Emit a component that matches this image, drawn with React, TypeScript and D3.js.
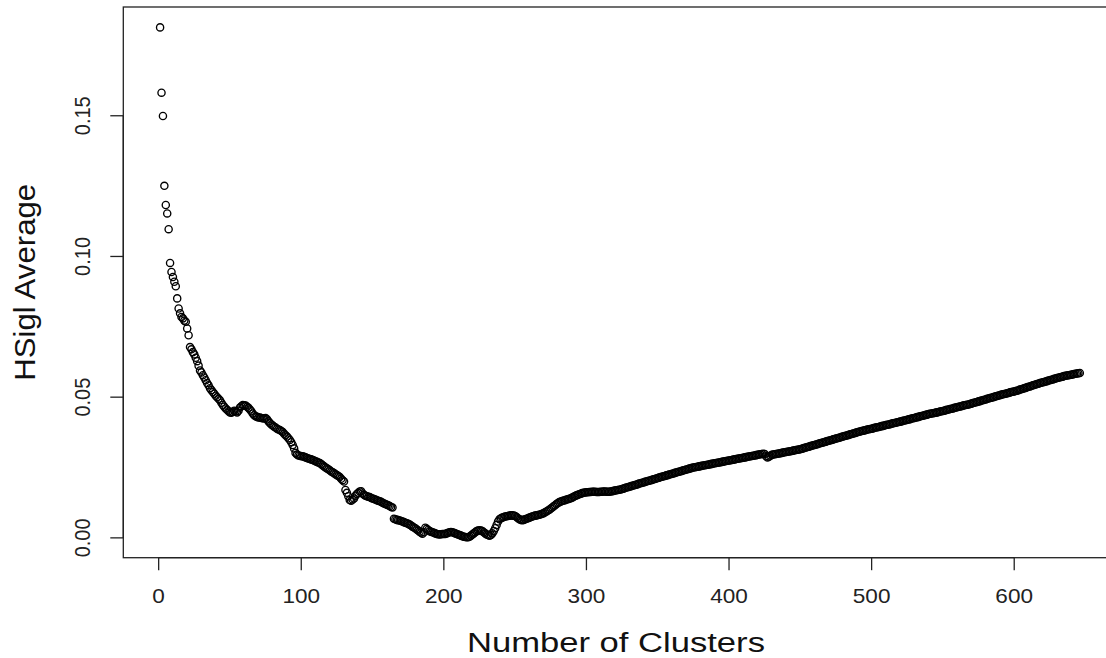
import React from 'react';
import * as d3 from 'd3';

// HSigl average per number of clusters (clusters 1..646)
const hsiglPart1 = [
  0.1814, 0.1582, 0.1499, 0.1251, 0.1183, 0.1153, 0.1097, 0.0977, 0.0945, 0.0927,
  0.0910, 0.0894, 0.0851, 0.0815, 0.0798, 0.0785, 0.0780, 0.0772, 0.0768, 0.0744,
  0.0720, 0.0678, 0.0670, 0.0660, 0.0652, 0.0640, 0.0628, 0.0612, 0.0595, 0.0588,
  0.0578, 0.0570, 0.0560, 0.0550, 0.0542, 0.0532, 0.0525, 0.0518, 0.0512, 0.0505,
  0.0500, 0.0494, 0.0489, 0.0480, 0.0472, 0.0466, 0.0460, 0.0455, 0.0450, 0.0446,
  0.0445, 0.0448, 0.0452, 0.0450, 0.0446, 0.0452, 0.0463, 0.0468, 0.0472, 0.0471,
  0.0470, 0.0466, 0.0462, 0.0456, 0.0450, 0.0442, 0.0436, 0.0432, 0.0430, 0.0428,
  0.0428, 0.0426, 0.0425, 0.0424, 0.0426, 0.0421, 0.0414, 0.0408, 0.0403, 0.0399,
  0.0395, 0.0392, 0.0388, 0.0385, 0.0383, 0.0380, 0.0376, 0.0370, 0.0365, 0.0360,
  0.0354, 0.0348, 0.0340, 0.0330, 0.0318, 0.0302, 0.0296, 0.0293, 0.0292, 0.0290,
];
const hsiglPart2 = [
  0.0290, 0.0288, 0.0286, 0.0284, 0.0282, 0.0280, 0.0279, 0.0277, 0.0275, 0.0272,
  0.0270, 0.0268, 0.0266, 0.0262, 0.0258, 0.0254, 0.0250, 0.0247, 0.0244, 0.0240,
  0.0236, 0.0233, 0.0230, 0.0226, 0.0223, 0.0220, 0.0216, 0.0210, 0.0205, 0.0200,
  0.0170, 0.0160, 0.0148, 0.0135, 0.0132, 0.0136, 0.0140, 0.0150, 0.0156, 0.0160,
  0.0165, 0.0166, 0.0158, 0.0153, 0.0150, 0.0148, 0.0146, 0.0145, 0.0142, 0.0140,
  0.0138, 0.0136, 0.0134, 0.0132, 0.0130, 0.0128, 0.0125, 0.0122, 0.0120, 0.0118,
  0.0116, 0.0113, 0.0110, 0.0108, 0.0068, 0.0066, 0.0064, 0.0063, 0.0062, 0.0060,
  0.0058, 0.0056, 0.0054, 0.0052, 0.0050, 0.0047, 0.0044, 0.0040, 0.0037, 0.0034,
  0.0030, 0.0026, 0.0022, 0.0018, 0.0015, 0.0020, 0.0036, 0.0032, 0.0028, 0.0024,
  0.0022, 0.0020, 0.0018, 0.0016, 0.0014, 0.0013, 0.0012, 0.0013, 0.0014, 0.0014,
];
const hsiglPart3 = [
  0.0014, 0.0016, 0.0018, 0.0020, 0.0021, 0.0020, 0.0018, 0.0016, 0.0014, 0.0012,
  0.0010, 0.0008, 0.0006, 0.0004, 0.0003, 0.0002, 0.0002, 0.0004, 0.0008, 0.0012,
  0.0016, 0.0020, 0.0024, 0.0026, 0.0027, 0.0026, 0.0024, 0.0020, 0.0016, 0.0012,
  0.0010, 0.0008, 0.0010, 0.0016, 0.0024, 0.0034, 0.0046, 0.0058, 0.0066, 0.0070,
  0.0072, 0.0074, 0.0076, 0.0077, 0.0078, 0.0079, 0.0080, 0.0080, 0.0079, 0.0078,
  0.0074, 0.0070, 0.0066, 0.0064, 0.0063, 0.0064, 0.0066, 0.0068, 0.0070, 0.0072,
  0.0074, 0.0076, 0.0078, 0.0079, 0.0080, 0.0081, 0.0082, 0.0084, 0.0086, 0.0088,
  0.0091, 0.0094, 0.0097, 0.0100, 0.0104, 0.0108, 0.0112, 0.0116, 0.0120, 0.0124,
  0.0127, 0.0129, 0.0131, 0.0133, 0.0134, 0.0136, 0.0137, 0.0139, 0.0141, 0.0143,
  0.0146, 0.0149, 0.0151, 0.0153, 0.0155, 0.0157, 0.0159, 0.0160, 0.0161, 0.0162,
];
const hsiglPart4 = [
  0.0162, 0.0163, 0.0163, 0.0164, 0.0164, 0.0164, 0.0163, 0.0163, 0.0163, 0.0164,
  0.0164, 0.0165, 0.0165, 0.0164, 0.0164, 0.0164, 0.0165, 0.0166, 0.0167, 0.0168,
  0.0169, 0.0170, 0.0171, 0.0172, 0.0174, 0.0175, 0.0177, 0.0179, 0.0180, 0.0182,
  0.0183, 0.0185, 0.0186, 0.0188, 0.0189, 0.0191, 0.0193, 0.0194, 0.0196, 0.0197,
  0.0199, 0.0200, 0.0202, 0.0203, 0.0205, 0.0206, 0.0208, 0.0209, 0.0211, 0.0213,
  0.0214, 0.0216, 0.0217, 0.0219, 0.0220, 0.0222, 0.0223, 0.0225, 0.0226, 0.0228,
  0.0229, 0.0231, 0.0232, 0.0234, 0.0235, 0.0237, 0.0238, 0.0240, 0.0241, 0.0243,
  0.0244, 0.0246, 0.0247, 0.0249, 0.0250, 0.0251, 0.0252, 0.0253, 0.0254, 0.0255,
  0.0256, 0.0257, 0.0258, 0.0259, 0.0260, 0.0261, 0.0262, 0.0263, 0.0264, 0.0265,
  0.0266, 0.0267, 0.0268, 0.0269, 0.0270, 0.0271, 0.0272, 0.0273, 0.0274, 0.0275,
];
const hsiglPart5 = [
  0.0276, 0.0277, 0.0278, 0.0279, 0.0280, 0.0281, 0.0282, 0.0283, 0.0284, 0.0285,
  0.0286, 0.0287, 0.0288, 0.0289, 0.0290, 0.0291, 0.0292, 0.0293, 0.0294, 0.0295,
  0.0296, 0.0297, 0.0298, 0.0299, 0.0298, 0.0290, 0.0286, 0.0288, 0.0292, 0.0295,
  0.0296, 0.0297, 0.0298, 0.0299, 0.0300, 0.0301, 0.0302, 0.0303, 0.0304, 0.0305,
  0.0306, 0.0307, 0.0308, 0.0309, 0.0310, 0.0311, 0.0312, 0.0313, 0.0314, 0.0315,
  0.0317, 0.0318, 0.0320, 0.0321, 0.0323, 0.0324, 0.0326, 0.0327, 0.0329, 0.0330,
  0.0332, 0.0333, 0.0335, 0.0336, 0.0338, 0.0339, 0.0341, 0.0342, 0.0344, 0.0345,
  0.0347, 0.0348, 0.0350, 0.0351, 0.0353, 0.0354, 0.0356, 0.0357, 0.0359, 0.0360,
  0.0362, 0.0363, 0.0365, 0.0366, 0.0368, 0.0369, 0.0371, 0.0372, 0.0374, 0.0375,
  0.0377, 0.0378, 0.0380, 0.0381, 0.0382, 0.0383, 0.0385, 0.0386, 0.0387, 0.0388,
];
const hsiglPart6 = [
  0.0389, 0.0391, 0.0392, 0.0393, 0.0394, 0.0396, 0.0397, 0.0398, 0.0399, 0.0401,
  0.0402, 0.0403, 0.0404, 0.0406, 0.0407, 0.0408, 0.0409, 0.0411, 0.0412, 0.0413,
  0.0414, 0.0416, 0.0417, 0.0418, 0.0420, 0.0421, 0.0422, 0.0424, 0.0425, 0.0426,
  0.0428, 0.0429, 0.0430, 0.0432, 0.0433, 0.0434, 0.0436, 0.0437, 0.0438, 0.0440,
  0.0441, 0.0442, 0.0443, 0.0444, 0.0445, 0.0446, 0.0447, 0.0449, 0.0450, 0.0451,
  0.0452, 0.0454, 0.0455, 0.0456, 0.0458, 0.0459, 0.0460, 0.0462, 0.0463, 0.0464,
  0.0466, 0.0467, 0.0468, 0.0470, 0.0471, 0.0472, 0.0473, 0.0474, 0.0476, 0.0477,
  0.0479, 0.0480, 0.0482, 0.0483, 0.0485, 0.0486, 0.0488, 0.0489, 0.0491, 0.0492,
  0.0494, 0.0495, 0.0497, 0.0498, 0.0500, 0.0501, 0.0503, 0.0504, 0.0506, 0.0507,
  0.0509, 0.0510, 0.0511, 0.0512, 0.0514, 0.0515, 0.0517, 0.0518, 0.0519, 0.0520,
];
const hsiglPart7 = [
  0.0522, 0.0523, 0.0525, 0.0527, 0.0528, 0.0530, 0.0532, 0.0533, 0.0535, 0.0537,
  0.0538, 0.0540, 0.0542, 0.0543, 0.0545, 0.0547, 0.0548, 0.0550, 0.0551, 0.0553,
  0.0554, 0.0556, 0.0557, 0.0559, 0.0560, 0.0562, 0.0563, 0.0565, 0.0566, 0.0568,
  0.0569, 0.0571, 0.0572, 0.0573, 0.0575, 0.0576, 0.0577, 0.0578, 0.0579, 0.0580,
  0.0581, 0.0582, 0.0583, 0.0584, 0.0585, 0.0586,
];

const xTicks = [0, 100, 200, 300, 400, 500, 600];
const yTicks = [0, 0.05, 0.1, 0.15];
const yTickLabels = ['0.00', '0.05', '0.10', '0.15'];

const WIDTH = 1106;
const HEIGHT = 658;
const FONT = '"Liberation Sans", Arial, sans-serif';
const STRETCH = 1.13; // the source picture is a bit wider than tall

const App: React.FC = () => {
  const values = [
    ...hsiglPart1, ...hsiglPart2, ...hsiglPart3, ...hsiglPart4,
    ...hsiglPart5, ...hsiglPart6, ...hsiglPart7,
  ];
  const points = values.map((v, i) => ({ k: i + 1, v }));

  // R style: 4% padding around the data range
  const xExt = d3.extent(points, d => d.k) as [number, number];
  const yExt = d3.extent(points, d => d.v) as [number, number];
  const xPad = (xExt[1] - xExt[0]) * 0.04;
  const yPad = (yExt[1] - yExt[0]) * 0.04;

  const left = 123.3, right = 1116.6, top = 7, bottom = 557.7;

  const x = d3.scaleLinear().domain([xExt[0] - xPad, xExt[1] + xPad]).range([left, right]);
  const y = d3.scaleLinear().domain([yExt[0] - yPad, yExt[1] + yPad]).range([bottom, top]);

  const stroke = '#222';

  return (
    <svg
      width={WIDTH}
      height={HEIGHT}
      style={{ position: 'absolute', left: 0, top: 0, display: 'block', background: '#fff', overflow: 'hidden' }}
      fontFamily={FONT}
    >
      <rect x={0} y={0} width={WIDTH} height={HEIGHT} fill="#fff" />

      {/* box */}
      <rect x={left} y={top} width={right - left} height={bottom - top} fill="none" stroke={stroke} strokeWidth={1.3} />

      {/* x axis */}
      <line x1={x(xTicks[0])} x2={x(xTicks[xTicks.length - 1])} y1={bottom} y2={bottom} stroke={stroke} strokeWidth={1.3} />
      {xTicks.map(t => (
        <g key={`xt${t}`}>
          <line x1={x(t)} x2={x(t)} y1={bottom} y2={bottom + 12.5} stroke={stroke} strokeWidth={1.3} />
          <text
            transform={`translate(${x(t)},603) scale(${STRETCH},1)`}
            textAnchor="middle"
            fontSize={20}
            fill="#222"
          >
            {t}
          </text>
        </g>
      ))}

      {/* y axis */}
      <line x1={left} x2={left} y1={y(yTicks[0])} y2={y(yTicks[yTicks.length - 1])} stroke={stroke} strokeWidth={1.3} />
      {yTicks.map((t, i) => (
        <g key={`yt${t}`}>
          <line x1={left} x2={left - 13} y1={y(t)} y2={y(t)} stroke={stroke} strokeWidth={1.3} />
          <text
            transform={`translate(90,${y(t)}) scale(${STRETCH},1) rotate(-90)`}
            textAnchor="middle"
            fontSize={20}
            fill="#222"
          >
            {yTickLabels[i]}
          </text>
        </g>
      ))}

      {/* titles */}
      <text
        x={(left + right) / 2 - 4}
        y={651.5}
        textAnchor="middle"
        fontSize={27}
        textLength={298}
        lengthAdjust="spacingAndGlyphs"
        fill="#111"
      >
        Number of Clusters
      </text>
      <text
        transform={`translate(35,${(top + bottom) / 2}) scale(1.07,1) rotate(-90)`}
        textAnchor="middle"
        fontSize={28}
        textLength={197}
        lengthAdjust="spacingAndGlyphs"
        fill="#111"
      >
        HSigl Average
      </text>

      {/* points */}
      <g fill="none" stroke="#000" strokeWidth={1.35}>
        {points.map(p => (
          <circle key={p.k} cx={x(p.k)} cy={y(p.v)} r={3.6} />
        ))}
      </g>
    </svg>
  );
};

export default App;
